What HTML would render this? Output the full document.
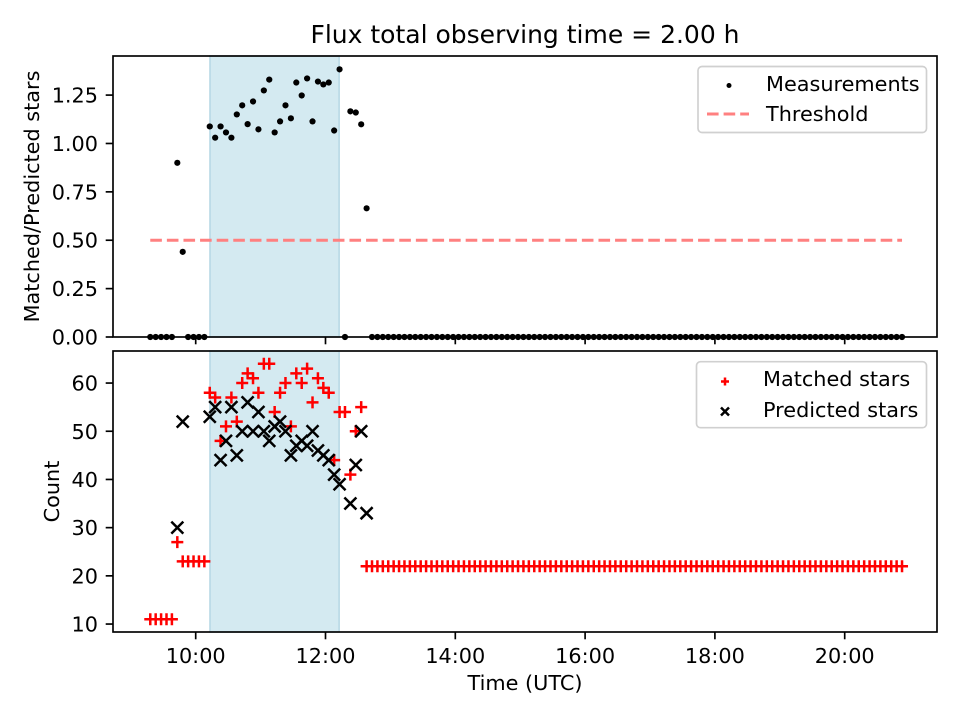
<!DOCTYPE html>
<html><head><meta charset="utf-8">
<style>
html,body{margin:0;padding:0;background:#fff;}
svg{display:block;font-family:"DejaVu Sans","Liberation Sans",sans-serif;}
</style></head>
<body>
<svg id="chart" width="960" height="720" viewBox="0 0 960 720" xmlns="http://www.w3.org/2000/svg"></svg>
<script>
// ---- data ----
const startMinutes = 9*60+18;
const stepMinutes = 5;
const ratioValues = [0,0,0,0,0,0.90,0.44,0,0,0,0,
 1.088,1.03,1.088,1.057,1.03,1.15,1.197,1.10,1.217,1.073,1.274,1.33,1.057,1.114,1.197,1.13,1.315,1.248,1.336,1.114,1.32,1.305,1.315,1.067,1.383,
 0,1.166,1.16,1.099,0.665,
 0,0,0,0,0,0,0,0,0,0, 0,0,0,0,0,0,0,0,0,0, 0,0,0,0,0,0,0,0,0,0, 0,0,0,0,0,0,0,0,0,0, 0,0,0,0,0,0,0,0,0,0,
 0,0,0,0,0,0,0,0,0,0, 0,0,0,0,0,0,0,0,0,0, 0,0,0,0,0,0,0,0,0,0, 0,0,0,0,0,0,0,0,0,0, 0,0,0,0,0,0,0,0,0];
const matchedValues = [11,11,11,11,11,27,23,23,23,23,23,
 58,57,48,51,57,52,60,62,61,58,64,64,54,58,60,51,62,60,63,56,61,59,58,44,54,
 54,41,50,55,22,
 22,22,22,22,22,22,22,22,22,22, 22,22,22,22,22,22,22,22,22,22, 22,22,22,22,22,22,22,22,22,22, 22,22,22,22,22,22,22,22,22,22, 22,22,22,22,22,22,22,22,22,22,
 22,22,22,22,22,22,22,22,22,22, 22,22,22,22,22,22,22,22,22,22, 22,22,22,22,22,22,22,22,22,22, 22,22,22,22,22,22,22,22,22,22, 22,22,22,22,22,22,22,22,22];
const predictedValues = [null,null,null,null,null,30,52,null,null,null,null,
 53,55,44,48,55,45,50,56,50,54,50,48,51,52,50,45,47,48,47,50,46,45,44,41,39,
 null,35,43,50,33];
const threshold = 0.5;
const observeStart = 10.22, observeEnd = 12.21;
const xTickHours = [10,12,14,16,18,20];
const xTickLabels = ["10:00","12:00","14:00","16:00","18:00","20:00"];
const topTicks = [0,0.25,0.5,0.75,1.0,1.25];
const topTickLabels = ["0.00","0.25","0.50","0.75","1.00","1.25"];
const botTicks = [10,20,30,40,50,60];
const botTickLabels = ["10","20","30","40","50","60"];

// ---- layout ----
const svg = document.getElementById('chart');
const NS = 'http://www.w3.org/2000/svg';
function mk(tag, attrs, parent, text){
  const e = document.createElementNS(NS, tag);
  for (const k in attrs) e.setAttribute(k, attrs[k]);
  if (text !== undefined) e.textContent = text;
  (parent||svg).appendChild(e);
  return e;
}
const FS = '20.8px';
const hours = ratioValues.map((_, i) => (startMinutes + i*stepMinutes)/60);
const AX_L = 113, AX_R = 937;
const X10 = 195.7, PXH = 64.9;
function xs(h){ return X10 + (h-10)*PXH; }
const TOP = {t:56, b:337, lo:0, hi:1.452};
const BOT = {t:351, b:632, lo:8.35, hi:66.65};
function ys(p, v){ return p.b - (v-p.lo)/(p.hi-p.lo)*(p.b-p.t); }

// title
let e = mk('text',{x:525,y:43,'text-anchor':'middle','font-size':'25px',fill:'#000'},svg,'Flux total observing time = 2.00 h');



function panel(p, name){
  const g = mk('g',{});
  
  
  const sh = mk('rect',{x:xs(observeStart),y:p.t,width:xs(observeEnd)-xs(observeStart),height:p.b-p.t,fill:'#d4eaf1',stroke:'#b5d7e4','stroke-width':1.5},g);
  
  
  return g;
}
function frame(p, g, ticks, labels, ylabel, nameX, showXLabels){
  const fr = mk('rect',{x:AX_L,y:p.t,width:AX_R-AX_L,height:p.b-p.t,fill:'none',stroke:'#000','stroke-width':1.67},g);
  
  
  ticks.forEach((t,i)=>{
    const y = ys(p,t);
    mk('line',{x1:AX_L-7.3,x2:AX_L,y1:y,y2:y,stroke:'#000','stroke-width':1.67},g);
    const tl = mk('text',{x:98,y:y+7.5,'text-anchor':'end','font-size':FS},g,labels[i]);
    
    
  });
  xTickHours.forEach((h,i)=>{
    const x = xs(h);
    mk('line',{x1:x,x2:x,y1:p.b,y2:p.b+7.3,stroke:'#000','stroke-width':1.67},g);
    if (showXLabels){
      const tl = mk('text',{x:x,y:663,'text-anchor':'middle','font-size':FS},g,xTickLabels[i]);
      
      
    }
  });
  const cy = (p.t+p.b)/2;
  const yl = mk('text',{x:0,y:0,transform:`translate(${nameX},${cy}) rotate(-90)`,'text-anchor':'middle','font-size':FS},g,ylabel);
  
  
}

// top panel
const gTop = panel(TOP,'ratio-panel');
const th = mk('line',{x1:xs(hours[0]),x2:xs(hours[hours.length-1]),y1:ys(TOP,threshold),y2:ys(TOP,threshold),stroke:'#ff8080','stroke-width':3,'stroke-dasharray':'11.6,5'},gTop);


ratioValues.forEach((v,i)=>{
  const c = mk('circle',{cx:xs(hours[i]),cy:ys(TOP,v),r:3.1,fill:'#000'},gTop);
  
  
});
frame(TOP,gTop,topTicks,topTickLabels,'Matched/Predicted stars',39,false);

// top legend
const lg1 = mk('g',{});


mk('rect',{x:698,y:66.5,width:228.5,height:66,rx:4,fill:'#fff','fill-opacity':0.8,stroke:'#d0d0d0','stroke-width':1.67},lg1);
mk('circle',{cx:729,cy:85.5,r:2.5,fill:'#000'},lg1);
e = mk('text',{x:766,y:91,'font-size':FS},lg1,'Measurements');


mk('line',{x1:707,x2:749,y1:114,y2:114,stroke:'#ff8080','stroke-width':3,'stroke-dasharray':'11.6,5'},lg1);
e = mk('text',{x:766,y:121,'font-size':FS},lg1,'Threshold');



// bottom panel
const gBot = panel(BOT,'count-panel');
function plus(x,y,g,s,w){ s=s||6; w=w||2.5; mk('path',{d:`M${x-s},${y}H${x+s}M${x},${y-s}V${y+s}`,stroke:'#ff0000','stroke-width':w,fill:'none'},g); }
function cross(x,y,g,s,w){ s=s||6; w=w||2.5; mk('path',{d:`M${x-s},${y-s}L${x+s},${y+s}M${x-s},${y+s}L${x+s},${y-s}`,stroke:'#000','stroke-width':w,fill:'none'},g); }
matchedValues.forEach((v,i)=>{
  const gg = mk('g',{},gBot);
  
  
  plus(xs(hours[i]),ys(BOT,v),gg);
});
predictedValues.forEach((v,i)=>{
  if (v===null) return;
  const gg = mk('g',{},gBot);
  
  
  cross(xs(hours[i]),ys(BOT,v),gg);
});
frame(BOT,gBot,botTicks,botTickLabels,'Count',59,true);
e = mk('text',{x:525,y:690,'text-anchor':'middle','font-size':FS},svg,'Time (UTC)');



// bottom legend
const lg2 = mk('g',{});


mk('rect',{x:696.5,y:361.7,width:230,height:66,rx:4,fill:'#fff','fill-opacity':0.8,stroke:'#d0d0d0','stroke-width':1.67},lg2);
plus(725,381.5,lg2,4,2.5);
e = mk('text',{x:763,y:386,'font-size':FS},lg2,'Matched stars');


cross(725,411.5,lg2,4,2.5);
e = mk('text',{x:763,y:417,'font-size':FS},lg2,'Predicted stars');


</script>
</body></html>
